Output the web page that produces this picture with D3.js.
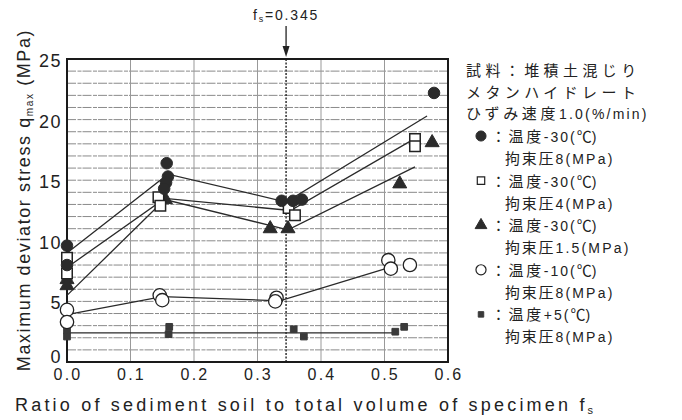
<!DOCTYPE html>
<html>
<head>
<meta charset="utf-8">
<script src="https://cdn.jsdelivr.net/npm/d3@7"></script>
<style>
  html, body { margin: 0; padding: 0; background: #fff; }
  svg { display: block; }
  .lat { font-family: "Liberation Sans", Arial, sans-serif; fill: #222; }
  .jp { font-family: "Noto Sans CJK JP", sans-serif; fill: #222; }
</style>
</head>
<body>
<svg id="chart" width="682" height="420"></svg>
<script>
// axis ticks
const xTicks = [0, 0.1, 0.2, 0.3, 0.4, 0.5, 0.6];
const yTicks = [0, 5, 10, 15, 20, 25];
const yMinor = d3.range(0, 26, 1);
const fsMark = 0.345;

// measured points [fs, qmax]
const t30p8 = [[0, 9.6], [0, 8.0], [0.157, 16.4], [0.159, 15.3], [0.156, 14.8], [0.153, 14.3],
  [0.338, 13.3], [0.356, 13.3], [0.370, 13.4], [0.578, 22.2]];
const t30p4 = [[0, 8.6], [0, 7.3], [0.144, 13.6], [0.147, 12.9], [0.349, 12.7], [0.359, 12.1],
  [0.548, 18.4], [0.548, 17.8]];
const t30p15 = [[0, 6.8], [0, 6.3], [0.155, 13.4], [0.32, 11.0], [0.348, 11.0], [0.524, 14.7], [0.575, 18.1]];
const t10p8 = [[0, 4.3], [0, 3.3], [0.146, 5.5], [0.150, 5.1], [0.33, 5.3], [0.328, 5.0],
  [0.506, 8.4], [0.51, 7.7], [0.54, 8.0]];
const t5p8 = [[0, 2.6], [0, 2.1], [0.161, 2.9], [0.160, 2.3], [0.357, 2.7], [0.373, 2.1],
  [0.517, 2.5], [0.531, 2.9]];

// trend lines drawn through each group
const fit30p8 = [[0, 9.0], [0.159, 15.5], [0.345, 13.2], [0.567, 20.3]];
const fit30p4 = [[0, 7.8], [0.154, 13.5], [0.352, 12.5], [0.553, 18.6]];
const fit30p15 = [[0, 5.5], [0.154, 13.4], [0.348, 10.9], [0.548, 16.1]];
const fit10p8 = [[0, 3.9], [0.15, 5.4], [0.335, 5.05], [0.52, 8.0]];
const fit5p8 = [[0, 2.4], [0.52, 2.4]];

const svg = d3.select("#chart");
const x = d3.scaleLinear().domain([0, 0.6]).range([67, 448]);
const y = d3.scaleLinear().domain([0, 25]).range([362, 59]);
const LAT = "Liberation Sans, Arial, sans-serif";

// grid
const grid = svg.append("g");
grid.selectAll("line.h").data(yMinor).join("line")
  .attr("x1", x(0)).attr("x2", x(0.6))
  .attr("y1", d => y(d)).attr("y2", d => y(d))
  .attr("stroke", "#8a8a8a").attr("stroke-width", 1)
  .attr("stroke-dasharray", "9,1.5,4,1");
grid.selectAll("line.v").data(xTicks.slice(1, -1)).join("line")
  .attr("x1", d => x(d)).attr("x2", d => x(d))
  .attr("y1", y(25)).attr("y2", y(0))
  .attr("stroke", "#999").attr("stroke-width", 1);

// fs = 0.345 marker line
svg.append("line")
  .attr("x1", x(fsMark)).attr("x2", x(fsMark))
  .attr("y1", y(25)).attr("y2", y(0))
  .attr("stroke", "#222").attr("stroke-width", 1.4)
  .attr("stroke-dasharray", "2,1.5");

// frame
svg.append("rect")
  .attr("x", x(0)).attr("y", y(25))
  .attr("width", x(0.6) - x(0)).attr("height", y(0) - y(25))
  .attr("fill", "none").attr("stroke", "#1a1a1a").attr("stroke-width", 2);

// tick labels
svg.append("g").selectAll("text").data(yTicks).join("text")
  .attr("class", "lat")
  .attr("x", 62).attr("y", d => d === 0 ? y(d) + 1 : y(d) + 8)
  .attr("text-anchor", "end")
  .attr("font-size", 18).attr("letter-spacing", 1.5)
  .text(d => d);
svg.append("g").selectAll("text").data(xTicks).join("text")
  .attr("class", "lat")
  .attr("x", d => x(d) + 1).attr("y", 380)
  .attr("text-anchor", "middle")
  .attr("font-size", 16).attr("letter-spacing", 2.2)
  .text(d => d3.format(".1f")(d));

// axis titles
const xt = svg.append("text").attr("class", "lat")
  .attr("x", 15).attr("y", 411)
  .attr("font-size", 18).attr("letter-spacing", 3.2);
xt.append("tspan").text("Ratio of sediment soil to total volume of specimen f");
xt.append("tspan").attr("font-size", 11).attr("dy", 3).text("s");

const yt = svg.append("text").attr("class", "lat")
  .attr("transform", "translate(30,200) rotate(-90)")
  .attr("text-anchor", "middle")
  .attr("font-size", 18).attr("letter-spacing", 1.6);
yt.append("tspan").text("Maximum deviator stress q");
yt.append("tspan").attr("font-size", 10).attr("dy", 3).text("max");
yt.append("tspan").attr("dy", -3).text(" (MPa)");

// fs annotation
const ft = svg.append("text").attr("class", "lat")
  .attr("x", x(fsMark)).attr("y", 20)
  .attr("text-anchor", "middle")
  .attr("font-size", 14).attr("letter-spacing", 1.8);
ft.append("tspan").text("f");
ft.append("tspan").attr("font-size", 9).attr("dy", 2).text("s");
ft.append("tspan").attr("dy", -2).text("=0.345");
svg.append("line")
  .attr("x1", x(fsMark)).attr("x2", x(fsMark))
  .attr("y1", 26).attr("y2", 50)
  .attr("stroke", "#222").attr("stroke-width", 1.3);
svg.append("path")
  .attr("d", d3.line()([[x(fsMark) - 3.5, 46], [x(fsMark) + 3.5, 46], [x(fsMark), 57]]) + "Z")
  .attr("fill", "#222");

// trend lines
const line = d3.line().x(d => x(d[0])).y(d => y(d[1]));
[fit30p8, fit30p4, fit30p15, fit10p8, fit5p8].forEach(f => {
  svg.append("path").datum(f)
    .attr("d", line)
    .attr("fill", "none").attr("stroke", "#2a2a2a").attr("stroke-width", 1.3);
});

// marker shapes
const sym = {
  fcircle: d3.symbol().type(d3.symbolCircle).size(105),
  osquare: d3.symbol().type(d3.symbolSquare).size(110),
  triangle: d3.symbol().type(d3.symbolTriangle).size(85),
  ocircle: d3.symbol().type(d3.symbolCircle).size(140),
  fsquare: d3.symbol().type(d3.symbolSquare).size(45)
};
const style = {
  fcircle: { fill: "#2b2b2b", stroke: "#2b2b2b", sw: 1 },
  osquare: { fill: "#fff", stroke: "#222", sw: 1.5 },
  triangle: { fill: "#2b2b2b", stroke: "#2b2b2b", sw: 1 },
  ocircle: { fill: "#fff", stroke: "#222", sw: 1.3 },
  fsquare: { fill: "#3a3a3a", stroke: "#3a3a3a", sw: 1 }
};
function drawMarkers(g, pts, kind) {
  g.selectAll(null).data(pts).join("path")
    .attr("d", sym[kind]())
    .attr("transform", d => `translate(${x(d[0])},${y(d[1])})`)
    .attr("fill", style[kind].fill)
    .attr("stroke", style[kind].stroke)
    .attr("stroke-width", style[kind].sw);
}
const marks = svg.append("g");
drawMarkers(marks, t5p8, "fsquare");
drawMarkers(marks, t10p8, "ocircle");
drawMarkers(marks, t30p15, "triangle");
drawMarkers(marks, t30p4, "osquare");
drawMarkers(marks, t30p8, "fcircle");

// legend
const lg = svg.append("g");
const header = ["試料：堆積土混じり", "メタンハイドレート"];
header.forEach((s, i) => {
  lg.append("text").attr("class", "jp")
    .attr("x", 466).attr("y", 76 + i * 21.5)
    .attr("font-size", 15).attr("letter-spacing", 4.4)
    .text(s);
});
const rate = lg.append("text").attr("class", "jp").attr("x", 466).attr("y", 119)
  .attr("font-size", 15).attr("letter-spacing", 3.6);
rate.append("tspan").text("ひずみ速度");
rate.append("tspan").attr("font-size", 14).attr("letter-spacing", 2.2)
  .attr("font-family", LAT).text("1.0(%/min)");

const legendKinds = ["fcircle", "osquare", "triangle", "ocircle", "fsquare"];
const legendSize = [80, 55, 60, 80, 30];
const legendTemp = ["-30", "-30", "-30", "-10", "+5"];
const legendPress = ["8", "4", "1.5", "8", "8"];
legendKinds.forEach((k, i) => {
  const by = 142 + i * 44.6;
  const shape = { fcircle: d3.symbolCircle, osquare: d3.symbolSquare, triangle: d3.symbolTriangle,
    ocircle: d3.symbolCircle, fsquare: d3.symbolSquare }[k];
  lg.append("path")
    .attr("d", d3.symbol().type(shape).size(legendSize[i])())
    .attr("transform", `translate(481,${by - 6})`)
    .attr("fill", style[k].fill).attr("stroke", style[k].stroke)
    .attr("stroke-width", k === "osquare" || k === "ocircle" ? 1.2 : 1);
  const t1 = lg.append("text").attr("class", "jp").attr("x", 491).attr("y", by)
    .attr("font-size", 15).attr("letter-spacing", 2.6);
  t1.append("tspan").text("：温度");
  t1.append("tspan").attr("font-family", LAT)
    .attr("font-size", 14).attr("letter-spacing", 2).text(legendTemp[i] + "(");
  t1.append("tspan").attr("letter-spacing", 0).text("℃");
  t1.append("tspan").attr("font-family", LAT)
    .attr("font-size", 14).text(")");
  const t2 = lg.append("text").attr("class", "jp").attr("x", 505).attr("y", by + 22)
    .attr("font-size", 15).attr("letter-spacing", 1.8);
  t2.append("tspan").text("拘束圧");
  t2.append("tspan").attr("font-family", LAT)
    .attr("font-size", 14).attr("letter-spacing", 2.2).text(legendPress[i] + "(MPa)");
});
</script>
</body>
</html>
